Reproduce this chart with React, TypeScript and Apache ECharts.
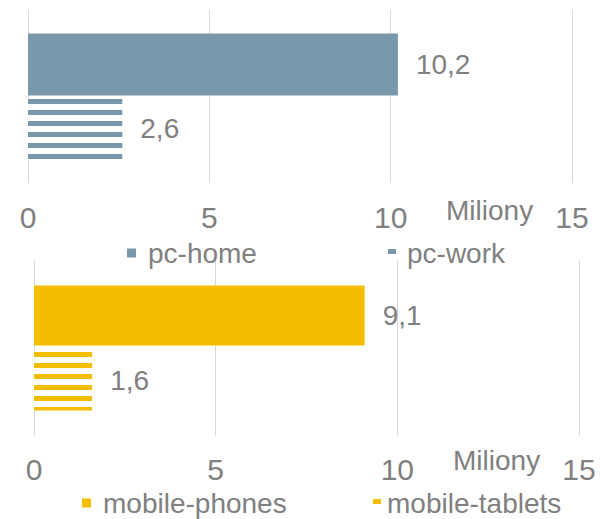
import React, { useEffect, useRef } from "react";
import * as echarts from "echarts";

const pcSeries = ["pc-home", "pc-work"];
const pcValues = [10.2, 2.6];
const mobileSeries = ["mobile-phones", "mobile-tablets"];
const mobileValues = [9.1, 1.6];
const xTicks = [0, 5, 10, 15];
const axisUnit = "Miliony";

const PC_COLOR = "#7a98ab";
const MOBILE_COLOR = "#f3be00";
const TEXT = "#808080";
const FONT = "'Liberation Sans', Arial, sans-serif";

function stripeDecal(color: string) {
  return {
    symbol: "rect",
    symbolSize: 1,
    dashArrayX: [10, 0],
    dashArrayY: [5, 5.7],
    color,
    rotation: 0,
  };
}

export default function App() {
  const ref = useRef<HTMLDivElement>(null);
  useEffect(() => {
    if (!ref.current) return;
    const chart = echarts.init(ref.current, null, { renderer: "svg" });
    const fmt = (p: any) => String(p.value).replace(".", ",");
    const label = {
      show: true,
      position: "right",
      distance: 18,
      color: TEXT,
      fontSize: 28,
      fontFamily: FONT,
      formatter: fmt,
    };
    const xAxisBase = (gridIndex: number, margin: number) => ({
      type: "value",
      gridIndex,
      min: xTicks[0],
      max: xTicks[xTicks.length - 1],
      interval: xTicks[1] - xTicks[0],
      axisLine: { show: false },
      axisTick: { show: false },
      axisLabel: { color: TEXT, fontSize: 30, fontFamily: FONT, margin },
      splitLine: { show: true, lineStyle: { color: "#d9d9d9", width: 1 } },
    });
    const yAxisBase = (gridIndex: number, name: string) => ({
      type: "category",
      gridIndex,
      inverse: true,
      data: [name],
      axisLine: { show: false },
      axisTick: { show: false },
      axisLabel: { show: false },
    });
    const legendText = (pad: number) => ({
      color: TEXT,
      fontSize: 28,
      fontFamily: FONT,
      padding: [0, 0, 0, pad],
    });
    const option: any = {
      animation: false,
      textStyle: { fontFamily: FONT },
      grid: [
        { left: 28, top: 10, width: 544, height: 173 },
        { left: 34, top: 260, width: 545, height: 176 },
      ],
      xAxis: [xAxisBase(0, 19), xAxisBase(1, 18)],
      yAxis: [yAxisBase(0, "pc"), yAxisBase(1, "mobile")],
      legend: [
        {
          data: [{ name: pcSeries[0], icon: "rect" }],
          left: 127,
          top: 239,
          padding: 0,
          itemWidth: 9,
          itemHeight: 9,
          textStyle: legendText(7),
        },
        {
          data: [{ name: pcSeries[1], icon: "rect" }],
          left: 388,
          top: 239,
          padding: 0,
          itemWidth: 8,
          itemHeight: 8,
          textStyle: legendText(6),
        },
        {
          data: [{ name: mobileSeries[0], icon: "rect" }],
          left: 82,
          top: 489,
          padding: 0,
          itemWidth: 9,
          itemHeight: 9,
          textStyle: legendText(7),
        },
        {
          data: [{ name: mobileSeries[1], icon: "rect" }],
          left: 373,
          top: 489,
          padding: 0,
          itemWidth: 8,
          itemHeight: 8,
          textStyle: legendText(1),
        },
      ],
      graphic: [
        {
          type: "text",
          x: 446,
          y: 210,
          style: {
            text: axisUnit,
            fill: TEXT,
            font: `28px ${FONT}`,
            verticalAlign: "middle",
          },
        },
        {
          type: "text",
          x: 453,
          y: 460,
          style: {
            text: axisUnit,
            fill: TEXT,
            font: `28px ${FONT}`,
            verticalAlign: "middle",
          },
        },
      ],
      series: [
        {
          name: pcSeries[0],
          type: "bar",
          xAxisIndex: 0,
          yAxisIndex: 0,
          data: [pcValues[0]],
          barWidth: 62,
          barGap: "3%",
          itemStyle: { color: PC_COLOR },
          label,
        },
        {
          name: pcSeries[1],
          type: "bar",
          xAxisIndex: 0,
          yAxisIndex: 0,
          data: [pcValues[1]],
          barWidth: 62,
          barGap: "3%",
          itemStyle: { color: "#ffffff", decal: stripeDecal(PC_COLOR) },
          label,
        },
        {
          name: mobileSeries[0],
          type: "bar",
          xAxisIndex: 1,
          yAxisIndex: 1,
          data: [mobileValues[0]],
          barWidth: 60,
          barGap: "8%",
          itemStyle: { color: MOBILE_COLOR },
          label,
        },
        {
          name: mobileSeries[1],
          type: "bar",
          xAxisIndex: 1,
          yAxisIndex: 1,
          data: [mobileValues[1]],
          barWidth: 60,
          barGap: "8%",
          itemStyle: { color: "#ffffff", decal: stripeDecal(MOBILE_COLOR) },
          label,
        },
      ],
    };
    chart.setOption(option);
    return () => chart.dispose();
  }, []);
  return (
    <div
      ref={ref}
      style={{ position: "fixed", left: 0, top: 0, width: 609, height: 519, background: "#ffffff" }}
    />
  );
}
